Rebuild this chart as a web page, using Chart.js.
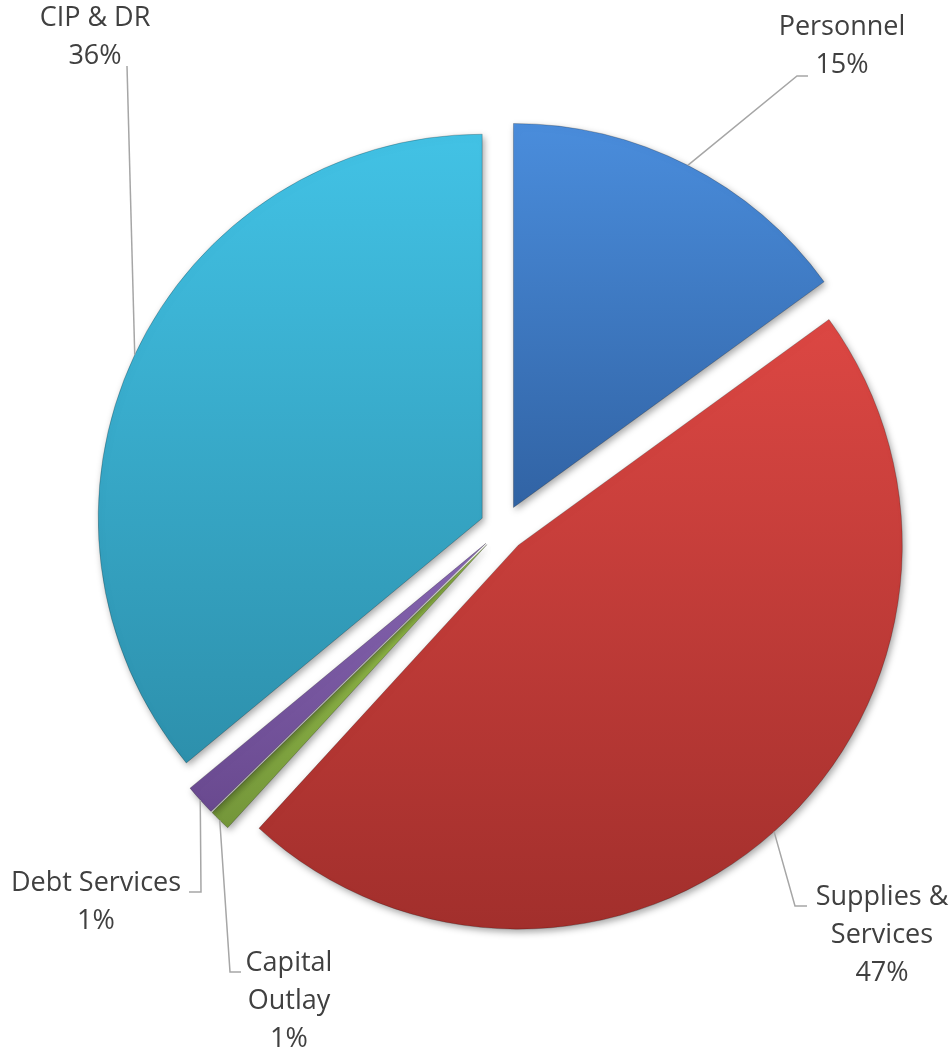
<!DOCTYPE html>
<html>
<head>
<meta charset="utf-8">
<script src="https://cdn.jsdelivr.net/npm/chart.js@4/dist/chart.umd.min.js"></script>
<style>
  html, body { margin: 0; padding: 0; background: #fff; }
  #wrap { width: 951px; height: 1057px; }
</style>
</head>
<body>
<div id="wrap"><canvas id="myChart"></canvas></div>
<script>
const categories = ['Personnel', 'Supplies & Services', 'Capital Outlay', 'Debt Services', 'CIP & DR'];
const shares = [15.0, 46.8, 0.9, 1.3, 36.0];
const labelLines = [['Personnel'], ['Supplies &', 'Services'], ['Capital', 'Outlay'], ['Debt Services'], ['CIP & DR']];
const titleText = '2023';

const topColors = ['#4a8ddc', '#dc4743', '#98c24a', '#8766b2', '#42c2e5'];
const bottomColors = ['#3163a4', '#a22f2c', '#74963a', '#69498f', '#2d90ac'];

const pieRadius = 384;
const explode = 23;

// where each label sits, plus the elbow of its leader line
const labelSpots = [
    { x: 842, y: 27, elbow: [797, 76], end: [808, 76] },
    { x: 882, y: 897, elbow: [795, 906], end: [807, 906] },
    { x: 289, y: 963, elbow: [230, 972], end: [241, 972] },
    { x: 96, y: 883, elbow: [201, 892], end: [189, 892] },
    { x: 95, y: 18, elbow: [127, 66], end: [127, 66] },
];
const lineHeight = 38;

// pull every slice out along its middle angle
const explodePlugin = {
    id: 'explode',
    afterDatasetsUpdate(chart) {
        const meta = chart.getDatasetMeta(0);
        meta.data.forEach((arc, i) => {
            const mid = (arc.startAngle + arc.endAngle) / 2;
            arc.x += explode * Math.cos(mid);
            arc.y += explode * Math.sin(mid);

            // vertical gradient over the slice's own height
            let minY = arc.y, maxY = arc.y;
            for (let k = 0; k <= 40; k++) {
                const a = arc.startAngle + (arc.endAngle - arc.startAngle) * k / 40;
                const y = arc.y + arc.outerRadius * Math.sin(a);
                minY = Math.min(minY, y);
                maxY = Math.max(maxY, y);
            }
            const g = chart.ctx.createLinearGradient(0, minY, 0, maxY);
            g.addColorStop(0, topColors[i]);
            g.addColorStop(1, bottomColors[i]);
            arc.options.backgroundColor = g;
        });
    },
    beforeDatasetsDraw(chart) {
        const ctx = chart.ctx;
        ctx.save();
        ctx.shadowColor = 'rgba(0,0,0,0.35)';
        ctx.shadowBlur = 7;
        ctx.shadowOffsetX = 2;
        ctx.shadowOffsetY = 3;
    },
    afterDatasetsDraw(chart) {
        chart.ctx.restore();
    },
};

const labelPlugin = {
    id: 'sliceLabels',
    afterDraw(chart) {
        const ctx = chart.ctx;
        const meta = chart.getDatasetMeta(0);
        const total = shares.reduce((a, b) => a + b, 0);
        ctx.save();

        // leader lines
        ctx.strokeStyle = '#a6a6a6';
        ctx.lineWidth = 1.5;
        meta.data.forEach((arc, i) => {
            const mid = (arc.startAngle + arc.endAngle) / 2;
            const ax = arc.x + arc.outerRadius * Math.cos(mid);
            const ay = arc.y + arc.outerRadius * Math.sin(mid);
            const s = labelSpots[i];
            ctx.beginPath();
            ctx.moveTo(ax, ay);
            ctx.lineTo(s.elbow[0], s.elbow[1]);
            ctx.lineTo(s.end[0], s.end[1]);
            ctx.stroke();
        });

        // label text
        ctx.fillStyle = '#404040';
        ctx.font = '27px "Open Sans"';
        ctx.textAlign = 'center';
        ctx.textBaseline = 'middle';
        labelLines.forEach((lines, i) => {
            const s = labelSpots[i];
            const pct = Math.round(shares[i] / total * 100) + '%';
            lines.concat([pct]).forEach((t, k) => {
                ctx.fillText(t, s.x, s.y + k * lineHeight);
            });
        });

        // title, almost entirely above the top edge
        ctx.font = 'bold 52px "Liberation Sans"';
        ctx.textAlign = 'left';
        ctx.textBaseline = 'alphabetic';
        ctx.fillStyle = '#404040';
        ctx.fillText(titleText, 244, -2);
        ctx.restore();
    },
};

const ctx = document.getElementById('myChart').getContext('2d');
const myChart = new Chart(ctx, {
    type: 'pie',
    data: {
        labels: categories,
        datasets: [{
            data: shares,
            backgroundColor: topColors,
            borderColor: 'rgba(0,0,0,0.22)',
            borderWidth: 1,
            radius: pieRadius,
        }],
    },
    options: {
        responsive: true,
        maintainAspectRatio: false,
        animation: false,
        events: [],
        layout: { padding: { left: 55, right: 0, top: 0, bottom: 1 } },
        plugins: {
            legend: { display: false },
            tooltip: { enabled: false },
        },
    },
    plugins: [explodePlugin, labelPlugin],
});
</script>
</body>
</html>
